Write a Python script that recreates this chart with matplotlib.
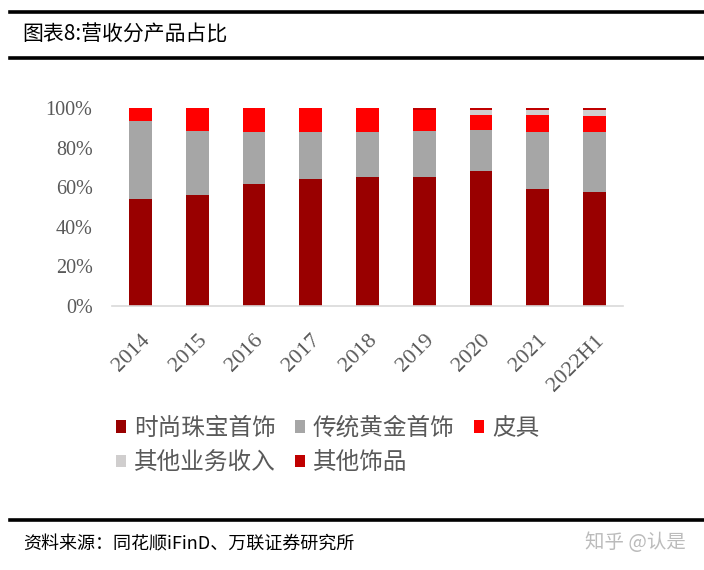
import matplotlib
matplotlib.use("Agg")
import matplotlib.pyplot as plt
from matplotlib.patches import Patch
from matplotlib.lines import Line2D
import numpy as np

plt.rcParams['font.family'] = ['Noto Sans CJK SC', 'DejaVu Sans']

categories = ['2014', '2015', '2016', '2017', '2018', '2019', '2020', '2021', '2022H1']
fashion = [54.0, 56.2, 61.8, 64.3, 65.3, 65.3, 68.5, 59.4, 57.7]      # 时尚珠宝首饰
gold = [39.4, 32.4, 26.1, 23.6, 22.9, 23.3, 20.4, 28.5, 30.2]         # 传统黄金首饰
leather = [6.6, 11.4, 12.1, 12.1, 11.8, 10.7, 7.9, 8.6, 8.1]          # 皮具
other_biz = [0.0, 0.0, 0.0, 0.0, 0.0, 0.0, 2.3, 2.8, 3.2]             # 其他业务收入
other_orn = [0.0, 0.0, 0.0, 0.0, 0.0, 0.7, 0.9, 0.7, 0.8]             # 其他饰品
yticks = [0, 20, 40, 60, 80, 100]
ytick_labels = ['0%', '20%', '40%', '60%', '80%', '100%']

series = [
    ('时尚珠宝首饰', fashion, '#990000'),
    ('传统黄金首饰', gold, '#A6A6A6'),
    ('皮具', leather, '#FF0000'),
    ('其他业务收入', other_biz, '#D0CECE'),
    ('其他饰品', other_orn, '#C00000'),
]

fig = plt.figure(figsize=(7.04, 5.70), dpi=100)
ax = fig.add_axes([112/704, 1-306/570, (623-112)/704, (306-108.3)/570])

x = np.arange(len(categories))
bottom = np.zeros(len(categories))
handles = {}
for name, vals, col in series:
    v = np.array(vals)
    ax.bar(x, v, width=0.4, bottom=bottom, color=col, linewidth=0)
    bottom += v
    handles[name] = Patch(facecolor=col, edgecolor='none', label=name)

ax.set_xlim(-0.5, len(categories) - 0.5)
ax.set_ylim(0, 100)
ax.set_yticks(yticks)
ax.set_yticklabels(ytick_labels, family='Liberation Serif', fontsize=14.5, color='#595959')
ax.set_xticks(x)
ax.set_xticklabels(categories, family='Liberation Serif', fontsize=16, color='#595959',
                   rotation=45, ha='right', va='top', rotation_mode='anchor')
ax.tick_params(axis='both', length=0)
ax.tick_params(axis='y', pad=14)
ax.tick_params(axis='x', pad=18)
for s in ['top', 'right', 'left']:
    ax.spines[s].set_visible(False)
ax.spines['bottom'].set_color('#D9D9D9')
ax.spines['bottom'].set_linewidth(1.2)

order = ['时尚珠宝首饰', '其他业务收入', '传统黄金首饰', '其他饰品', '皮具']
fig.legend([handles[n] for n in order], order, ncol=3, loc='upper left',
           bbox_to_anchor=(116/704, 1-417/570), frameon=False, fontsize=17,
           handlelength=0.42, handleheight=0.42, handletextpad=0.35,
           columnspacing=0.8, labelspacing=0.47, borderpad=0, borderaxespad=0,
           labelcolor='#595959')

# header / footer lines
fig.add_artist(Line2D([10/704, 1], [1-11.5/570]*2, color='black', lw=2.6))
fig.add_artist(Line2D([10/704, 1], [1-57.5/570]*2, color='black', lw=2.6))
fig.add_artist(Line2D([10/704, 1], [1-520/570]*2, color='black', lw=2.6))

fig.text(22/704, 1-35/570, '图表8:营收分产品占比', fontsize=15, color='black',
         ha='left', va='center')
fig.text(23/704, 1-544/570, '资料来源：同花顺iFinD、万联证券研究所', fontsize=13,
         color='black', ha='left', va='center')
fig.text(686/704, 1-543/570, '知乎 @认是', fontsize=14, color='#BBBBBB',
         ha='right', va='center')

fig.savefig('out.png', dpi=100)
